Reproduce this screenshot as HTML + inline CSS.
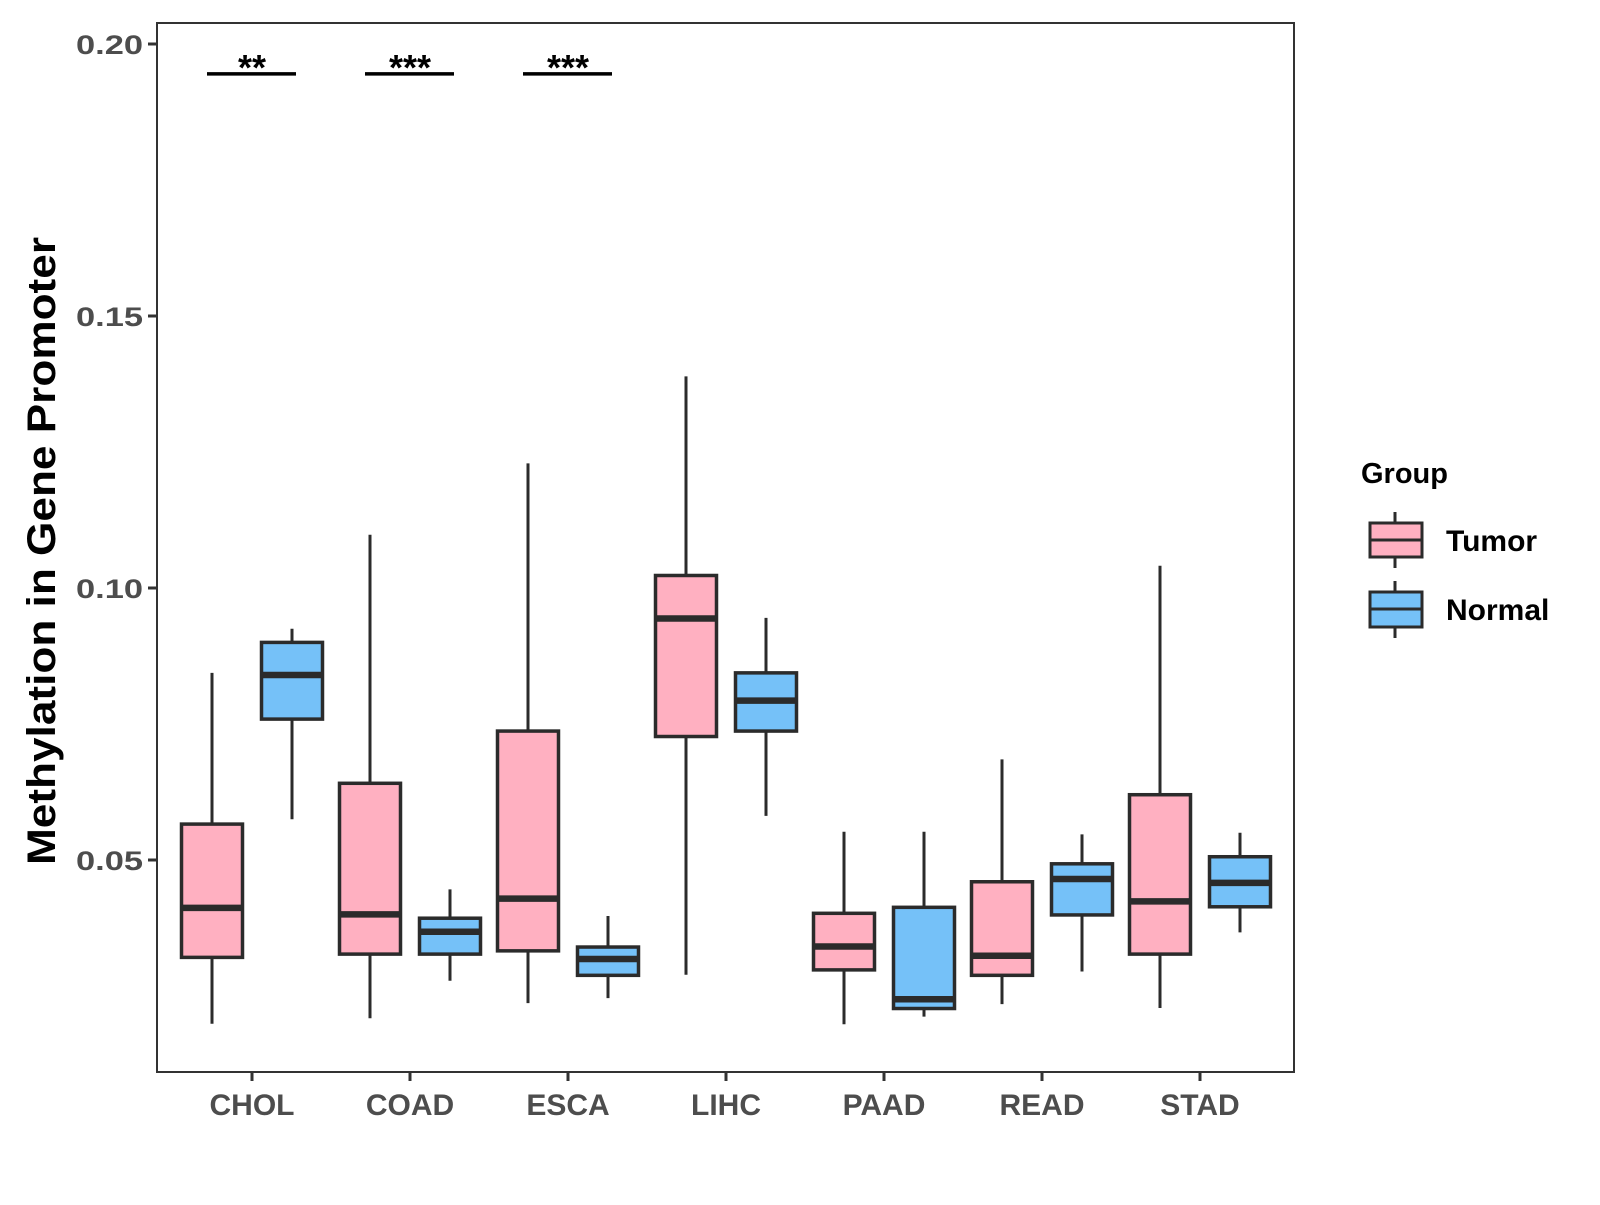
<!DOCTYPE html>
<html><head><meta charset="utf-8"><style>
body{margin:0;background:#fff}
svg text{font-family:"Liberation Sans",Arial,sans-serif;font-weight:bold}
</style></head><body>
<svg id="chart" width="1600" height="1200" xmlns="http://www.w3.org/2000/svg">
<rect x="157" y="23" width="1137" height="1049" fill="#fff" stroke="#333" stroke-width="2"/>
<g id="marks"></g>
<text transform="translate(55,551) rotate(-90)" text-anchor="middle" font-size="40" textLength="628" lengthAdjust="spacingAndGlyphs" fill="#000">Methylation in Gene Promoter</text>
<g transform="translate(-7,0)">
<text x="1368" y="483" font-size="29" fill="#000">Group</text>
<g>
<line x1="1402" y1="512" x2="1402" y2="568" stroke="#2b2b2b" stroke-width="3"/>
<rect x="1377" y="523" width="52" height="34" fill="#FFB0C1" stroke="#2b2b2b" stroke-width="3"/>
<line x1="1377" y1="540" x2="1429" y2="540" stroke="#2b2b2b" stroke-width="3"/>
<text x="1453" y="551" font-size="30" fill="#000">Tumor</text></g>
<g>
<line x1="1402" y1="581" x2="1402" y2="638" stroke="#2b2b2b" stroke-width="3"/>
<rect x="1377" y="592" width="52" height="35" fill="#75C1F8" stroke="#2b2b2b" stroke-width="3"/>
<line x1="1377" y1="609" x2="1429" y2="609" stroke="#2b2b2b" stroke-width="3"/>
<text x="1453" y="620" font-size="30" fill="#000">Normal</text></g>
</g>
</svg>
<script>
const categories=["CHOL","COAD","ESCA","LIHC","PAAD","READ","STAD"];
const tumorLow=[0.0199,0.0209,0.0237,0.0289,0.0198,0.0235,0.0228];
const tumorQ1=[0.0321,0.0327,0.0333,0.0727,0.0298,0.0288,0.0327];
const tumorMed=[0.0412,0.0400,0.0429,0.0944,0.0341,0.0324,0.0424];
const tumorQ3=[0.0566,0.0641,0.0737,0.1023,0.0402,0.0460,0.0620];
const tumorHigh=[0.0844,0.1098,0.1229,0.1389,0.0552,0.0685,0.1041];
const normalLow=[0.0575,0.0278,0.0246,0.0581,0.0212,0.0295,0.0367];
const normalQ1=[0.0759,0.0327,0.0288,0.0737,0.0227,0.0399,0.0414];
const normalMed=[0.0840,0.0368,0.0318,0.0793,0.0244,0.0465,0.0458];
const normalQ3=[0.0900,0.0393,0.0340,0.0844,0.0413,0.0493,0.0506];
const normalHigh=[0.0925,0.0446,0.0397,0.0945,0.0552,0.0547,0.0550];
const yTicks=[0.05,0.10,0.15,0.20];
const yTickLabels=["0.05","0.10","0.15","0.20"];
const sigCats=["CHOL","COAD","ESCA"];
const sigLabels=["**","***","***"];
const sigValue=0.1945;

const NS="http://www.w3.org/2000/svg";
const g=document.getElementById('marks');
function y(v){return 44+(0.20-v)*5440;}
function x(i){return 252+i*158;}
function el(t,a){const e=document.createElementNS(NS,t);for(const k in a)e.setAttribute(k,a[k]);g.appendChild(e);return e;}
yTicks.forEach((v,i)=>{
 const t=el('line',{x1:148,x2:157,y1:y(v),y2:y(v),stroke:'#333','stroke-width':3});
 
 
 const l=el('text',{x:143,y:y(v)+10,'text-anchor':'end','font-size':27,textLength:67,lengthAdjust:'spacingAndGlyphs',fill:'#4d4d4d'});
 l.textContent=yTickLabels[i];
 
 
});
categories.forEach((c,i)=>{
 const t=el('line',{x1:x(i),x2:x(i),y1:1072,y2:1081,stroke:'#333','stroke-width':3});
 
 
 const l=el('text',{x:x(i),y:1115,'text-anchor':'middle','font-size':30,fill:'#4d4d4d'});
 l.textContent=c;
 
 
});
function box(cx,lo,q1,md,q3,hi,fill,name){
 const w=61;
 const a=el('line',{x1:cx,x2:cx,y1:y(hi),y2:y(lo),stroke:'#2b2b2b','stroke-width':3});
 
 
 const r=el('rect',{x:cx-w/2,y:y(q3),width:w,height:y(q1)-y(q3),fill:fill,stroke:'#2b2b2b','stroke-width':3.5});
 
 
 const m=el('line',{x1:cx-w/2,x2:cx+w/2,y1:y(md),y2:y(md),stroke:'#2b2b2b','stroke-width':6.5});
 
 
}
categories.forEach((c,i)=>{
 box(x(i)-40,tumorLow[i],tumorQ1[i],tumorMed[i],tumorQ3[i],tumorHigh[i],'#FFB0C1','tumor-'+c.toLowerCase());
 box(x(i)+40,normalLow[i],normalQ1[i],normalMed[i],normalQ3[i],normalHigh[i],'#75C1F8','normal-'+c.toLowerCase());
});
sigCats.forEach((c,k)=>{
 const i=categories.indexOf(c);
 const l=el('line',{x1:x(i)-45,x2:x(i)+44,y1:y(sigValue),y2:y(sigValue),stroke:'#000','stroke-width':3.5});
 
 
 const t=el('text',{x:x(i),y:y(sigValue)+6,'text-anchor':'middle','font-size':36,fill:'#000'});
 t.textContent=sigLabels[k];
 
 
});
</script>
</body></html>
